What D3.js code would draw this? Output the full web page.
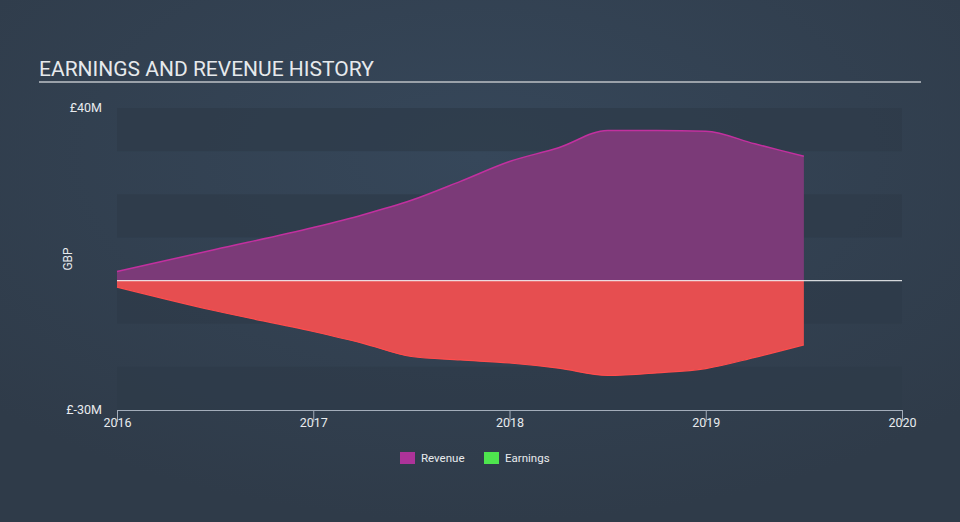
<!DOCTYPE html>
<html>
<head>
<meta charset="utf-8">
<script src="https://cdn.jsdelivr.net/npm/d3@7"></script>
<style>
  html, body { margin: 0; padding: 0; background: #333f4e; }
  svg { display: block; }
  text { font-family: Roboto, "Open Sans", sans-serif; }
</style>
</head>
<body>
<svg id="chart" width="960" height="522"></svg>
<script>
// ---- data ----
const years = [2016.0, 2016.5, 2017.0, 2017.25, 2017.5, 2017.75, 2018.0, 2018.25, 2018.5, 2018.75, 2019.0, 2019.25, 2019.5];
const revenue = [2.1, 7.2, 12.3, 15.2, 18.6, 23.0, 27.6, 30.8, 34.8, 34.8, 34.6, 31.7, 28.8];
const earnings = [-1.5, -7.0, -11.8, -14.5, -17.6, -18.4, -19.1, -20.3, -22.0, -21.4, -20.4, -17.8, -14.9];
const xTicks = [2016, 2017, 2018, 2019, 2020];
const yTickLabels = ["£40M", "£-30M"];
const yTickValues = [40, -30];
const bandEdges = [40, 30, 20, 10, 0, -10, -20, -30];
const seriesNames = ["Revenue", "Earnings"];
const legendColors = ["#ad3399", "#4ee54e"];

const svg = d3.select("#chart");
const W = 960, H = 522;
const m = { left: 117, right: 902, top: 108, bottom: 410 };

// background gradient
const defs = svg.append("defs");
const rg = defs.append("radialGradient").attr("id", "bg")
  .attr("cx", "50%").attr("cy", "30%").attr("r", "70%");
rg.append("stop").attr("offset", "0%").attr("stop-color", "#36475a");
rg.append("stop").attr("offset", "100%").attr("stop-color", "#2f3b49");
svg.append("rect").attr("width", W).attr("height", H).attr("fill", "url(#bg)");

const x = d3.scaleLinear().domain([2016, 2020]).range([m.left, m.right]);
const y = d3.scaleLinear().domain([-30, 40]).range([m.bottom, m.top]);

// stripes
for (let i = 0; i < bandEdges.length - 1; i++) {
  if (i % 2 === 0) {
    svg.append("rect")
      .attr("x", x(2016)).attr("width", x(2020) - x(2016))
      .attr("y", y(bandEdges[i])).attr("height", y(bandEdges[i + 1]) - y(bandEdges[i]))
      .attr("fill", "#2d3a49").attr("opacity", 0.7);
  }
}

// title
svg.append("text").attr("x", 39).attr("y", 76)
  .attr("font-size", 21).attr("fill", "#e6e9ec")
  .text("EARNINGS AND REVENUE HISTORY");
svg.append("line").attr("x1", 39).attr("x2", 921).attr("y1", 82).attr("y2", 82)
  .attr("stroke", "#9aa1a9").attr("stroke-width", 2);

const rows = years.map((t, i) => ({ t, r: revenue[i], e: earnings[i] }));
const curve = d3.curveMonotoneX;

const areaRev = d3.area().curve(curve).x(d => x(d.t)).y0(y(0)).y1(d => y(d.r));
const lineRev = d3.line().curve(curve).x(d => x(d.t)).y(d => y(d.r));
const areaEarn = d3.area().curve(curve).x(d => x(d.t)).y0(y(0)).y1(d => y(d.e));
const lineEarn = d3.line().curve(curve).x(d => x(d.t)).y(d => y(d.e));

svg.append("path").datum(rows).attr("d", areaRev)
  .attr("fill", "#7f3a7a").attr("fill-opacity", 0.95);
svg.append("path").datum(rows).attr("d", lineRev)
  .attr("fill", "none").attr("stroke", "#c2309f").attr("stroke-width", 1.5);
svg.append("path").datum(rows).attr("d", areaEarn)
  .attr("fill", "#f04f50").attr("fill-opacity", 0.95);
svg.append("path").datum(rows).attr("d", lineEarn)
  .attr("fill", "none").attr("stroke", "#ff4d4d").attr("stroke-width", 1.2);

// zero line
svg.append("line").attr("x1", x(2016)).attr("x2", x(2020))
  .attr("y1", y(0)).attr("y2", y(0))
  .attr("stroke", "#ffffff").attr("stroke-opacity", 0.8).attr("stroke-width", 1.2);

// y labels
yTickValues.forEach((v, i) => {
  svg.append("text").attr("x", 102).attr("y", y(v)).attr("dy", "0.35em")
    .attr("text-anchor", "end").attr("font-size", 12.5).attr("fill", "#e8ebee")
    .text(yTickLabels[i]);
});
svg.append("text").attr("transform", `translate(72,${y(5)}) rotate(-90)`)
  .attr("text-anchor", "middle").attr("font-size", 12).attr("fill", "#e8ebee")
  .text("GBP");

// x axis
const xAxis = d3.axisBottom(x).tickValues(xTicks).tickFormat(d3.format("d")).tickSize(6).tickSizeOuter(0);
const gx = svg.append("g").attr("transform", `translate(0,${m.bottom})`).call(xAxis);
gx.select(".domain").attr("stroke", "#a3adba");
gx.selectAll(".tick line").attr("stroke", "#a3adba").attr("y1", 0).attr("y2", 12);
gx.selectAll(".tick text").attr("fill", "#e8ebee").attr("font-size", 12.5)
  .attr("font-family", "Roboto, sans-serif").attr("y", 8).attr("dy", "0.71em");

// legend
const lg = svg.append("g").attr("transform", "translate(400,452)");
const lx = [0, 84];
seriesNames.forEach((n, i) => {
  lg.append("rect").attr("x", lx[i]).attr("y", 0).attr("width", 15).attr("height", 12)
    .attr("fill", legendColors[i]);
  lg.append("text").attr("x", lx[i] + 21).attr("y", 6).attr("dy", "0.35em")
    .attr("font-size", 11.5).attr("fill", "#e8ebee").text(n);
});
</script>
</body>
</html>
